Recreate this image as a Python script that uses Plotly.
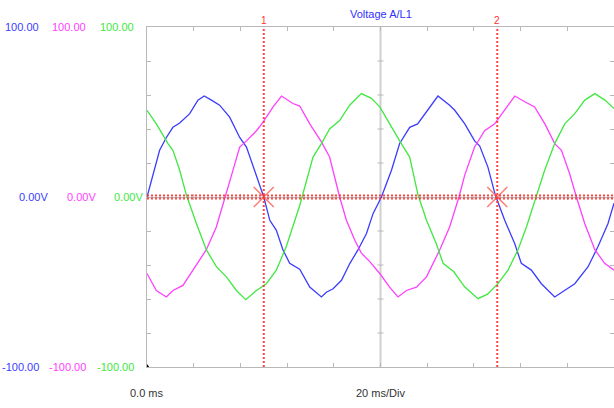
import plotly.graph_objects as go

# ---- data (time in ms, voltage in V) ----
blue_t = [0.0, 2.6, 5.4, 8.3, 11.1, 14.0, 18.3, 21.8, 24.5, 27.6, 31.1, 35.4, 39.7, 42.6, 46.1, 50.0,
          52.6, 55.4, 58.2, 61.1, 65.4, 69.7, 74.7, 76.8, 79.7, 83.3, 86.9, 90.4, 94.0, 96.8, 100.4,
          104.7, 108.2, 112.5, 115.9, 120.2, 124.6, 129.6, 131.8, 136.1, 140.3, 142.5, 146.0, 149.2,
          153.2, 157.5, 160.3, 164.6, 168.9, 174.6, 178.9, 183.2, 188.9, 193.2, 197.4, 200.0]
blue_v = [0, 13.7, 27.5, 35, 41, 43.5, 49, 57, 59.4, 57, 54, 47, 35, 29.4, 15.7, 0,
          -13.7, -19.6, -31, -39, -42.5, -53, -58.8, -56, -54, -49, -39, -31, -21.5, -9.8, 0,
          15.7, 31.5, 41, 43, 51, 59.4, 54, 51, 43, 33, 30, 17.6, 1,
          -13.7, -27.5, -39, -43, -51, -58.8, -55, -51, -41, -29, -15.7, -3.7]

magenta_t = [0.0, 4.0, 8.3, 11.1, 15.4, 19.7, 25.4, 29.7, 33.3, 36.8, 39.7, 42.6, 46.9, 49.7, 54.0,
             57.6, 62.5, 65.4, 69.7, 74.7, 78.2, 82.5, 85.4, 89.0, 91.8, 95.4, 99.7, 103.9, 107.5,
             111.1, 115.4, 119.7, 125.4, 129.6, 133.6, 136.1, 140.3, 144.6, 148.9, 153.2, 157.5,
             161.8, 166.0, 170.4, 174.6, 177.5, 181.0, 183.9, 187.5, 191.8, 196.0, 200.0]
magenta_v = [-45, -55, -58.8, -55, -52, -43, -31, -17.6, 0, 15.7, 29.4, 33, 39, 44, 53,
             59.4, 55, 53.5, 43, 32.4, 23.5, 0, -13.7, -25.5, -33, -38, -45, -53, -58.8,
             -55, -53, -47, -31, -17.6, 0, 13, 29.4, 39, 43, 51, 59.4,
             56, 53, 43, 31.4, 27.5, 13.7, 0, -15.7, -31, -39, -43]

green_t = [0.0, 4.0, 9.0, 11.1, 14.0, 16.9, 21.2, 25.4, 29.7, 34.0, 38.3, 42.3, 46.9, 51.1, 55.4,
           59.7, 65.4, 68.3, 71.1, 74.7, 78.2, 82.5, 86.8, 91.8, 96.1, 99.7, 103.9, 108.2, 112.5,
           116.1, 119.7, 123.9, 126.8, 131.4, 136.1, 141.8, 146.0, 150.3, 154.6, 158.9, 162.5,
           166.8, 170.3, 174.6, 178.9, 183.2, 187.5, 191.8, 196.1, 200.0]
green_v = [51, 43, 31.4, 27.5, 15.7, 1, -15.7, -31, -41, -47, -55, -60.4, -55, -51, -43,
           -29, -5, 9.8, 23.5, 31.4, 40, 45, 54, 60.8, 58, 53, 43, 33, 23.5,
           1, -13.7, -27.5, -39, -44, -53, -59.8, -57, -51, -43, -31, -17.6,
           1, 15.7, 31.4, 43, 49, 57, 60.8, 57, 52]

series_names = ["A/L1", "B/L2", "C/L3"]
series_colors = ["#3c3cff", "#ff40ff", "#40e840"]

cursor_t = [50.0, 150.0]
cursor_v = [0.0, 0.0]
cursor_labels = ["1", "2"]

x_range = [0, 200]
y_range = [-100, 100]
y_label_values = [100, 0, -100]
y_label_texts = ["100.00", "0.00V", "-100.00"]
grid_ticks_x = [20, 40, 60, 80, 120, 140, 160, 180]
grid_ticks_y = [-80, -60, -40, -20, 20, 40, 60, 80]

title_text = "Voltage A/L1"
x_start_label = "0.0 ms"
x_div_label = "20 ms/Div"

FONT = "Liberation Sans, Arial, sans-serif"
GRID = "#b8b8b8"

fig = go.Figure()
for t, v, name, col in zip([blue_t, magenta_t, green_t], [blue_v, magenta_v, green_v],
                           series_names, series_colors):
    fig.add_trace(go.Scatter(x=t, y=v, mode="lines", name=name,
                             line=dict(color=col, width=1.3), hoverinfo="skip"))

# cursor crosses
fig.add_trace(go.Scatter(x=cursor_t, y=cursor_v, mode="markers", showlegend=False,
                         marker=dict(symbol="x-thin", size=20,
                                     line=dict(color="rgba(255,100,90,0.85)", width=1.5)),
                         hoverinfo="skip"))

shapes = []
# centre vertical graticule line
shapes.append(dict(type="line", xref="x", yref="paper", x0=100, x1=100, y0=0, y1=1,
                   line=dict(color="#d0d0d0", width=2), layer="below"))
# ticks on centre lines
for yv in grid_ticks_y:
    shapes.append(dict(type="line", xref="x", yref="y", xsizemode="pixel", xanchor=100,
                       x0=-3, x1=3, y0=yv, y1=yv, line=dict(color=GRID, width=1), layer="below"))
for xv in grid_ticks_x:
    shapes.append(dict(type="line", xref="x", yref="y", ysizemode="pixel", yanchor=0,
                       y0=-3, y1=3, x0=xv, x1=xv, line=dict(color=GRID, width=1), layer="below"))
# cursors
RED = "rgba(255,50,50,0.9)"
for ct in cursor_t:
    shapes.append(dict(type="line", xref="x", yref="paper", x0=ct, x1=ct, y0=0, y1=1,
                       line=dict(color=RED, width=2, dash="2px,2px"), layer="above"))
for off in (-1.5, 1.5):
    shapes.append(dict(type="line", xref="paper", yref="y", x0=0, x1=1,
                       ysizemode="pixel", yanchor=0, y0=off, y1=off,
                       line=dict(color=RED, width=2, dash="2px,2px"), layer="above"))
# small origin marker
shapes.append(dict(type="path", xref="x", yref="y", xsizemode="pixel", ysizemode="pixel",
                   xanchor=0, yanchor=-100, path="M-3,-1 L3,-1 L0,3 Z",
                   fillcolor="black", line=dict(color="black", width=0)))

annotations = []
annotations.append(dict(text=title_text, xref="paper", yref="paper", x=0.5, y=1, yanchor="middle",
                        yshift=13, showarrow=False, font=dict(family=FONT, size=11, color="#3030ff")))
for ct, lab in zip(cursor_t, cursor_labels):
    annotations.append(dict(text=lab, xref="x", yref="paper", x=ct, y=1, yanchor="middle",
                            yshift=7, showarrow=False,
                            font=dict(family=FONT, size=10, color="#ff3030")))
# y labels (three columns)
col_shift_edge = [-106, -59, -11]
col_shift_mid = [-97, -49, -2]
for col, se, sm in zip(series_colors, col_shift_edge, col_shift_mid):
    for yv, txt in zip(y_label_values, y_label_texts):
        annotations.append(dict(text=txt, xref="paper", yref="y", x=0, y=yv, xanchor="right",
                                yanchor="middle", xshift=(sm if yv == 0 else se), showarrow=False,
                                font=dict(family=FONT, size=11, color=col)))
annotations.append(dict(text=x_start_label, xref="x", yref="paper", x=0, y=0, xanchor="center",
                        yanchor="middle", yshift=-26, showarrow=False,
                        font=dict(family=FONT, size=11, color="#333333")))
annotations.append(dict(text=x_div_label, xref="x", yref="paper", x=100, y=0, xanchor="center",
                        yanchor="middle", yshift=-26, showarrow=False,
                        font=dict(family=FONT, size=11, color="#333333")))

fig.update_layout(
    width=614, height=408,
    margin=dict(l=147, r=0, t=27, b=41),
    paper_bgcolor="white", plot_bgcolor="white",
    showlegend=False,
    shapes=shapes, annotations=annotations,
    xaxis=dict(range=x_range, showgrid=False, zeroline=False, showline=True, linecolor=GRID,
               linewidth=1, mirror="ticks", ticks="inside", ticklen=4, tickcolor=GRID,
               tick0=0, dtick=20, showticklabels=False, fixedrange=True),
    yaxis=dict(range=y_range, showgrid=False, zeroline=True, zerolinecolor=GRID, zerolinewidth=1,
               showline=True, linecolor=GRID, linewidth=1, mirror="ticks", ticks="inside",
               ticklen=4, tickcolor=GRID, tick0=0, dtick=20, showticklabels=False,
               fixedrange=True),
)

# remove the default 8px page margin so the figure fills the window exactly
fig.write_html("out.html", config={"displayModeBar": False},
               post_script="document.body.style.margin='0px';document.body.style.overflow='hidden';")
